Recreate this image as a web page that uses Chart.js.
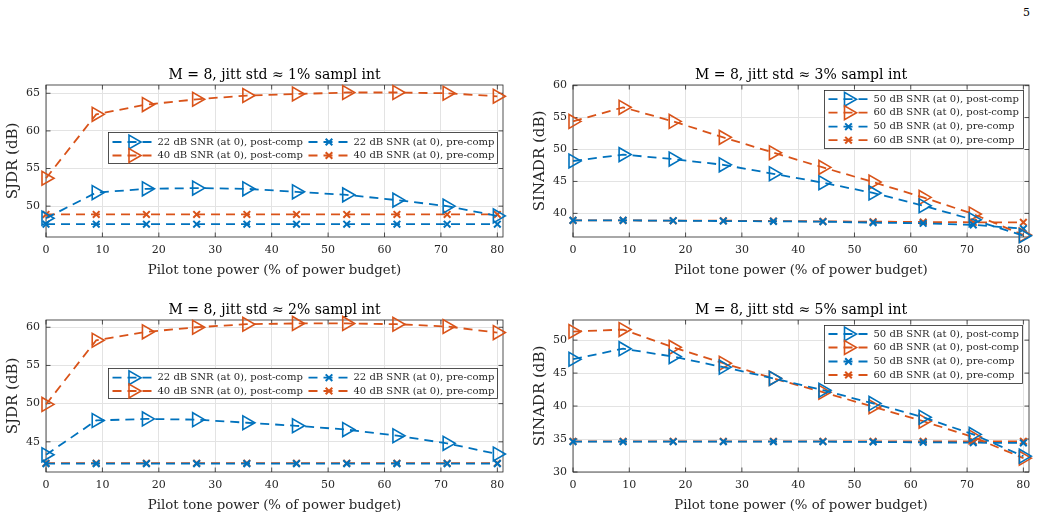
<!DOCTYPE html>
<html>
<head>
<meta charset="utf-8">
<script src="https://cdn.jsdelivr.net/npm/chart.js@4.4.1/dist/chart.umd.min.js"></script>
<style>
  body { margin: 0; background: #fff; width: 1039px; height: 518px; position: relative; overflow: hidden; }
  .pane { position: absolute; height: 223px; }
  #pageNum { position: absolute; left: 1023px; top: 6px; font: 11px "DejaVu Serif", serif; color: #000; }
</style>
</head>
<body>
<div id="pageNum">5</div>
<div class="pane" style="left:0;top:60px;width:520px"><canvas id="c1"></canvas></div>
<div class="pane" style="left:527px;top:60px;width:512px"><canvas id="c2"></canvas></div>
<div class="pane" style="left:0;top:295px;width:520px"><canvas id="c3"></canvas></div>
<div class="pane" style="left:527px;top:295px;width:512px"><canvas id="c4"></canvas></div>
<script>
// Valores del eje x (potencia del piloto) y marcas
const pilotPower = [0, 8.9, 17.8, 26.7, 35.6, 44.4, 53.3, 62.2, 71.1, 80];
const xTicks = [0, 10, 20, 30, 40, 50, 60, 70, 80];

// Jitter 1% - SJDR
const j1Post22 = [48.4, 51.8, 52.3, 52.4, 52.3, 51.9, 51.5, 50.8, 50.0, 48.7];
const j1Post40 = [53.7, 62.2, 63.5, 64.2, 64.7, 64.9, 65.1, 65.1, 65.0, 64.6];
const j1Pre22 = [47.6, 47.6, 47.6, 47.6, 47.6, 47.6, 47.6, 47.6, 47.6, 47.6];
const j1Pre40 = [48.9, 48.9, 48.9, 48.9, 48.9, 48.9, 48.9, 48.9, 48.9, 48.9];
const j1Ticks = [50, 55, 60, 65];

// Jitter 3% - SINADR
const j3Post50 = [48.2, 49.2, 48.5, 47.6, 46.2, 44.8, 43.2, 41.2, 39.0, 36.5];
const j3Post60 = [54.4, 56.6, 54.4, 51.9, 49.5, 47.2, 44.9, 42.5, 39.9, 36.6];
const j3Pre50 = [38.9, 38.9, 38.85, 38.8, 38.75, 38.7, 38.55, 38.45, 38.2, 37.6];
const j3Pre60 = [38.9, 38.9, 38.85, 38.85, 38.8, 38.75, 38.7, 38.65, 38.6, 38.6];
const j3Ticks = [40, 45, 50, 55, 60];

// Jitter 2% - SJDR
const j2Post22 = [43.3, 47.8, 48.0, 47.9, 47.5, 47.1, 46.6, 45.8, 44.8, 43.4];
const j2Post40 = [49.9, 58.3, 59.4, 60.0, 60.4, 60.5, 60.5, 60.4, 60.1, 59.3];
const j2Pre22 = [42.15, 42.15, 42.15, 42.15, 42.15, 42.15, 42.15, 42.15, 42.15, 42.15];
const j2Pre40 = [42.2, 42.2, 42.2, 42.2, 42.2, 42.2, 42.2, 42.2, 42.2, 42.2];
const j2Ticks = [45, 50, 55, 60];

// Jitter 5% - SINADR
const j5Post50 = [47.1, 48.7, 47.5, 45.9, 44.2, 42.4, 40.4, 38.3, 35.7, 32.4];
const j5Post60 = [51.3, 51.6, 48.9, 46.5, 44.2, 42.1, 39.9, 37.7, 35.3, 32.1];
const j5Pre50 = [34.6, 34.6, 34.6, 34.6, 34.6, 34.6, 34.55, 34.5, 34.45, 34.4];
const j5Pre60 = [34.65, 34.65, 34.65, 34.65, 34.65, 34.65, 34.65, 34.65, 34.65, 34.65];
const j5Ticks = [30, 35, 40, 45, 50];

const blue = '#0072BD', orange = '#D95319', ink = '#262626';
const serif = '"DejaVu Serif", serif';

// Dibuja un marcador (triangulo a la derecha o aspa) para la leyenda
const drawMarker = (ctx, style, x, y, color) => {
  ctx.strokeStyle = color;
  ctx.setLineDash([]);
  ctx.beginPath();
  if (style === 'triangle') {
    const r = 8;
    ctx.lineWidth = 1.6;
    ctx.moveTo(x + r, y);
    ctx.lineTo(x - r / 2, y + r * 0.866);
    ctx.lineTo(x - r / 2, y - r * 0.866);
    ctx.closePath();
  } else {
    const d = 3.3;
    ctx.lineWidth = 2;
    ctx.moveTo(x - d, y - d); ctx.lineTo(x + d, y + d);
    ctx.moveTo(x - d, y + d); ctx.lineTo(x + d, y - d);
  }
  ctx.stroke();
};

// Posiciones de las leyendas (relativas al area del grafico)
const legendLayouts = {
  c1: { x: 62, y: 47, w: 389, h: 31, lineLen: 41, textGap: 45,
        items: [[0, 4, 9.5], [2, 200, 9.5], [1, 4, 23], [3, 200, 23]] },
  c2: { x: 251, y: 5, w: 199, h: 58, lineLen: 40, textGap: 45,
        items: [[0, 4, 8.7], [1, 4, 22.2], [2, 4, 36.2], [3, 4, 49.7]] },
  c3: { x: 62, y: 47.7, w: 389, h: 30, lineLen: 41, textGap: 45,
        items: [[0, 4, 9.2], [2, 200, 9.2], [1, 4, 22.5], [3, 200, 22.5]] },
  c4: { x: 251, y: 5, w: 198, h: 58, lineLen: 40, textGap: 45,
        items: [[0, 4, 8.5], [1, 4, 22], [2, 4, 36], [3, 4, 49.5]] }
};

const boxLegend = {
  id: 'boxLegend',
  afterDraw(chart) {
    const lg = legendLayouts[chart.canvas.id];
    const { ctx, chartArea: a } = chart;
    const bx = Math.round(a.left + lg.x) + 0.5, by = Math.round(a.top + lg.y) + 0.5;
    ctx.save();
    ctx.fillStyle = '#fff';
    ctx.fillRect(bx, by, lg.w, lg.h);
    ctx.strokeStyle = ink;
    ctx.lineWidth = 0.8;
    ctx.strokeRect(bx, by, lg.w, lg.h);
    lg.items.forEach(([i, cx, cy]) => {
      const ds = chart.data.datasets[i];
      const x0 = bx + cx, y = by + cy;
      ctx.strokeStyle = ds.borderColor;
      ctx.lineWidth = ds.borderWidth;
      ctx.setLineDash(ds.borderDash);
      ctx.beginPath();
      ctx.moveTo(x0, y);
      ctx.lineTo(x0 + lg.lineLen, y);
      ctx.stroke();
      drawMarker(ctx, ds.pointStyle, x0 + lg.lineLen / 2, y, ds.borderColor);
      ctx.fillStyle = ink;
      ctx.font = '10px ' + serif;
      ctx.textBaseline = 'middle';
      ctx.fillText(ds.label, x0 + lg.textGap, y);
    });
    ctx.restore();
  }
};

// Caja de los ejes con marcas hacia dentro (estilo MATLAB)
const axesBox = {
  id: 'axesBox',
  beforeDatasetsDraw(chart) {
    const { ctx, chartArea: a, scales: { x, y } } = chart;
    ctx.save();
    ctx.strokeStyle = ink;
    ctx.lineWidth = 0.8;
    ctx.strokeRect(a.left, a.top, a.right - a.left, a.bottom - a.top);
    ctx.beginPath();
    x.ticks.forEach(t => {
      const px = x.getPixelForValue(t.value);
      ctx.moveTo(px, a.bottom); ctx.lineTo(px, a.bottom - 4.5);
      ctx.moveTo(px, a.top); ctx.lineTo(px, a.top + 4.5);
    });
    y.ticks.forEach(t => {
      const py = y.getPixelForValue(t.value);
      ctx.moveTo(a.left, py); ctx.lineTo(a.left + 4.5, py);
      ctx.moveTo(a.right, py); ctx.lineTo(a.right - 4.5, py);
    });
    ctx.stroke();
    ctx.restore();
  }
};

const series = (label, data, color, post) => ({
  label,
  data: data.map((v, i) => ({ x: pilotPower[i], y: v })),
  borderColor: color,
  backgroundColor: color,
  borderWidth: 1.8,
  borderDash: [9, 6],
  pointStyle: post ? 'triangle' : 'crossRot',
  pointRotation: post ? 90 : 0,
  pointRadius: post ? 8 : 4.7,
  pointBorderWidth: post ? 1.6 : 2,
  pointBackgroundColor: 'rgba(0,0,0,0)',
  pointBorderColor: color,
  clip: false,
  tension: 0
});

const makeChart = (id, title, yTitle, yMin, yMax, yTicks, padRight, datasets) => {
  new Chart(id, {
    type: 'line',
    data: { datasets },
    options: {
      responsive: true,
      maintainAspectRatio: false,
      animation: false,
      layout: { padding: { left: 0, right: padRight, top: 0, bottom: 0 }, autoPadding: false },
      plugins: {
        legend: { display: false },
        tooltip: { enabled: false },
        title: {
          display: true, text: title, color: '#000', fullSize: false,
          font: { family: serif, size: 14, weight: 'normal' },
          padding: { top: 6.5, bottom: 1.7 }
        }
      },
      scales: {
        x: {
          type: 'linear', min: 0, max: 81,
          afterFit: s => { s.height = 46; },
          afterBuildTicks: s => { s.ticks = xTicks.map(v => ({ value: v })); },
          grid: { color: '#e3e3e3', drawTicks: false },
          border: { display: false },
          ticks: { color: ink, padding: 7, maxRotation: 0, font: { family: serif, size: 11 } },
          title: {
            display: true, text: 'Pilot tone power (% of power budget)', color: ink,
            font: { family: serif, size: 13.3 }, padding: { top: 0, bottom: 4.5 }
          }
        },
        y: {
          type: 'linear', min: yMin, max: yMax,
          afterFit: s => { s.width = 46; },
          afterBuildTicks: s => { s.ticks = yTicks.map(v => ({ value: v })); },
          grid: { color: '#e3e3e3', drawTicks: false },
          border: { display: false },
          ticks: { color: ink, padding: 6, font: { family: serif, size: 11 } },
          title: {
            display: true, text: yTitle, color: ink,
            font: { family: serif, size: 15 }, padding: { top: 3.7, bottom: 0 }
          }
        }
      }
    },
    plugins: [axesBox, boxLegend]
  });
};

window.addEventListener('load', () => {
  makeChart('c1', 'M = 8, jitt std ≈ 1% sampl int', 'SJDR (dB)', 45.9, 66.1, j1Ticks, 17, [
    series('22 dB SNR (at 0), post-comp', j1Post22, blue, true),
    series('40 dB SNR (at 0), post-comp', j1Post40, orange, true),
    series('22 dB SNR (at 0), pre-comp', j1Pre22, blue, false),
    series('40 dB SNR (at 0), pre-comp', j1Pre40, orange, false)
  ]);
  makeChart('c2', 'M = 8, jitt std ≈ 3% sampl int', 'SINADR (dB)', 36.3, 60.1, j3Ticks, 10, [
    series('50 dB SNR (at 0), post-comp', j3Post50, blue, true),
    series('60 dB SNR (at 0), post-comp', j3Post60, orange, true),
    series('50 dB SNR (at 0), pre-comp', j3Pre50, blue, false),
    series('60 dB SNR (at 0), pre-comp', j3Pre60, orange, false)
  ]);
  makeChart('c3', 'M = 8, jitt std ≈ 2% sampl int', 'SJDR (dB)', 41.05, 60.95, j2Ticks, 17, [
    series('22 dB SNR (at 0), post-comp', j2Post22, blue, true),
    series('40 dB SNR (at 0), post-comp', j2Post40, orange, true),
    series('22 dB SNR (at 0), pre-comp', j2Pre22, blue, false),
    series('40 dB SNR (at 0), pre-comp', j2Pre40, orange, false)
  ]);
  makeChart('c4', 'M = 8, jitt std ≈ 5% sampl int', 'SINADR (dB)', 30, 53.05, j5Ticks, 10, [
    series('50 dB SNR (at 0), post-comp', j5Post50, blue, true),
    series('60 dB SNR (at 0), post-comp', j5Post60, orange, true),
    series('50 dB SNR (at 0), pre-comp', j5Pre50, blue, false),
    series('60 dB SNR (at 0), pre-comp', j5Pre60, orange, false)
  ]);
});
</script>
</body>
</html>
